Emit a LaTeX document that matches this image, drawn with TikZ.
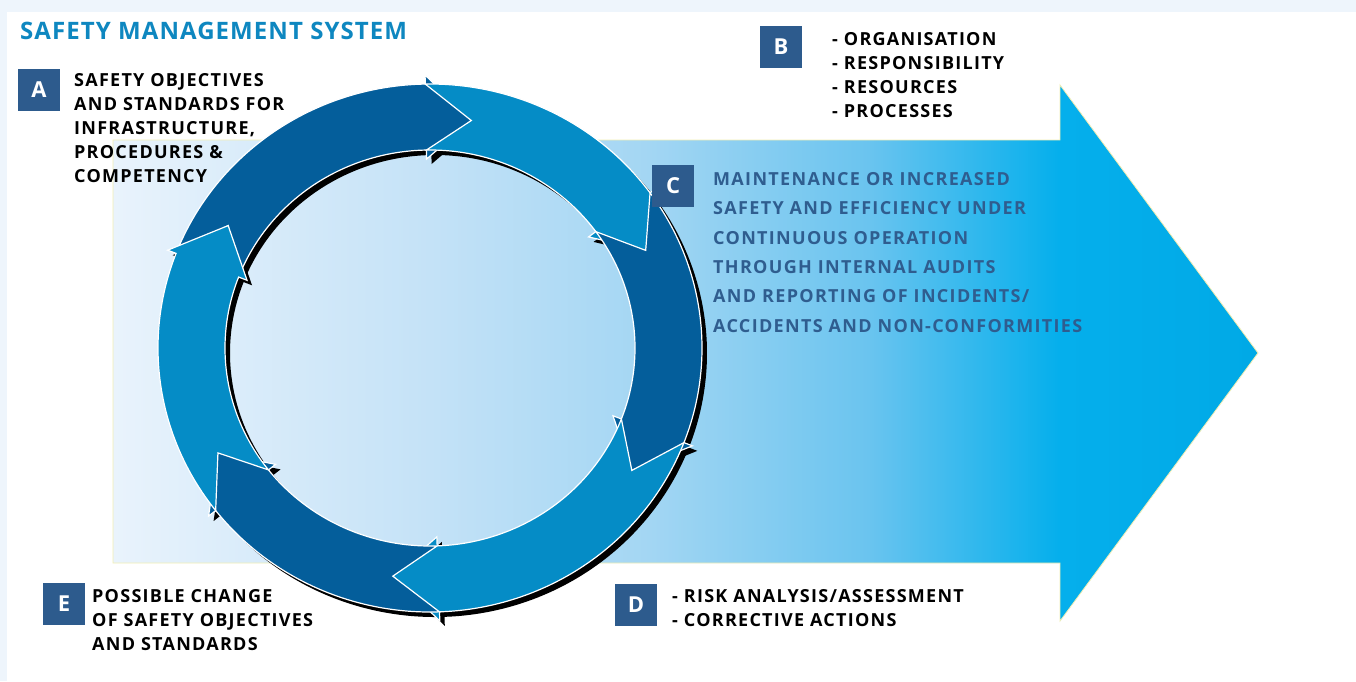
\documentclass[tikz,border=0pt]{standalone}
\usepackage{fontspec}
\setmainfont{Open Sans}
\usetikzlibrary{positioning}

\definecolor{pageblue}{HTML}{EEF5FC}
\definecolor{titleblue}{HTML}{0E87C0}
\definecolor{boxblue}{HTML}{2D5B8D}
\definecolor{ctextblue}{HTML}{2F5D8F}
\definecolor{darkarrow}{HTML}{045E9B}
\definecolor{midarrow}{HTML}{058CC6}
\definecolor{edgeyellow}{HTML}{F3EFB4}
\definecolor{sh0}{HTML}{E9F3FC}
\definecolor{sh1}{HTML}{C4E2F7}
\definecolor{sh2}{HTML}{A3D6F3}
\definecolor{sh3}{HTML}{6AC4EF}
\definecolor{sh4}{HTML}{05AFEC}
\definecolor{sh5}{HTML}{00A9E6}

\pgfdeclarehorizontalshading{bigarrowshade}{100bp}{color(0bp)=(sh0); color(25bp)=(sh0);
  color(38.85bp)=(sh1); color(48.45bp)=(sh2); color(58bp)=(sh3); color(66.3bp)=(sh4);
  color(75bp)=(sh5); color(100bp)=(sh5)}

% one segment of the ring: #1 options, #2 tail angle, #3 tip angle
\newcommand{\ringarrow}[3]{%
  \pgfmathsetmacro\arwtail{#2+11}\pgfmathsetmacro\arwhead{#3+11}%
  \path[#1] (\arwtail:272 and 264) arc[start angle=\arwtail, end angle=\arwhead, x radius=272, y radius=264]
    -- (\arwhead:281 and 273) -- (#3:238 and 231) -- (\arwhead:196 and 189) -- (\arwhead:205 and 198)
    arc[start angle=\arwhead, end angle=\arwtail, x radius=205, y radius=198] -- (#2:238 and 231) -- cycle;}

\begin{document}
\begin{tikzpicture}[x=1pt,y=1pt]

\tikzstyle{letterbox} = [rectangle, fill=boxblue, text=white, minimum size=42pt, inner sep=0pt, font=\fontsize{22}{22}\selectfont\bfseries]
\tikzstyle{infotext} = [anchor=north west, align=left, inner sep=0pt, font=\fsize]

\def \fsize{\fontsize{18}{24}\selectfont\bfseries\addfontfeature{LetterSpace=7}}

\useasboundingbox (0,0) rectangle (1356,-681);

%Page background
\fill[pageblue] (0,0) rectangle (1356,-681);
\fill[white] (7,-12) rectangle (1356,-681);

%Big arrow
\path[shading=bigarrowshade, draw=edgeyellow, line width=0.8pt] (113,-140) -- (1060,-140) -- (1060,-85) -- (1258,-353)
  -- (1060,-621) -- (1060,-563) -- (113,-563) -- cycle;

%Ring of six arrows
\begin{scope}[shift={(430,-348)}]
\foreach \a/\b in {148/80, 80/25, 25/-32, -32/-99, -99/-153, 207/148}
  {\ringarrow{fill=black, xshift=5pt, yshift=-5pt}{\a}{\b}}
\foreach \a/\b/\c in {148/80/darkarrow, 80/25/midarrow, 25/-32/darkarrow, -32/-99/midarrow, -99/-153/darkarrow, 207/148/midarrow}
  {\ringarrow{fill=\c, draw=white, line width=1.2pt}{\a}{\b}}
\end{scope}

%Title
\node[anchor=base west, inner sep=0pt, text=titleblue, font=\fontsize{24}{24}\selectfont\bfseries\addfontfeature{LetterSpace=4.5}] (title) at (20,-39) {SAFETY MANAGEMENT SYSTEM};

%A
\node[letterbox] (boxA) at (39,-90) {A};
\node[infotext] (txtA) at (74,-73.5) {SAFETY OBJECTIVES\\AND STANDARDS FOR\\INFRASTRUCTURE,\\PROCEDURES \&\\COMPETENCY};

%B
\node[letterbox] (boxB) at (781,-47) {B};
\node[infotext] (txtB) at (832,-32.5) {- ORGANISATION\\- RESPONSIBILITY\\- RESOURCES\\- PROCESSES};

%C
\node[letterbox] (boxC) at (673,-186) {C};
\node[infotext, text=ctextblue, font=\fontsize{18}{29.4}\selectfont\bfseries\addfontfeature{LetterSpace=7.3}] (txtC) at (713,-172.1)
  {MAINTENANCE OR INCREASED\\SAFETY AND EFFICIENCY UNDER\\CONTINUOUS OPERATION\\THROUGH INTERNAL AUDITS\\AND REPORTING OF INCIDENTS/\\ACCIDENTS AND NON-CONFORMITIES};

%D
\node[letterbox] (boxD) at (636,-605) {D};
\node[infotext] (txtD) at (672,-589.1) {- RISK ANALYSIS/ASSESSMENT\\- CORRECTIVE ACTIONS};

%E
\node[letterbox] (boxE) at (64,-604) {E};
\node[infotext] (txtE) at (92,-589.1) {POSSIBLE CHANGE\\OF SAFETY OBJECTIVES\\AND STANDARDS};

\end{tikzpicture}
\end{document}
